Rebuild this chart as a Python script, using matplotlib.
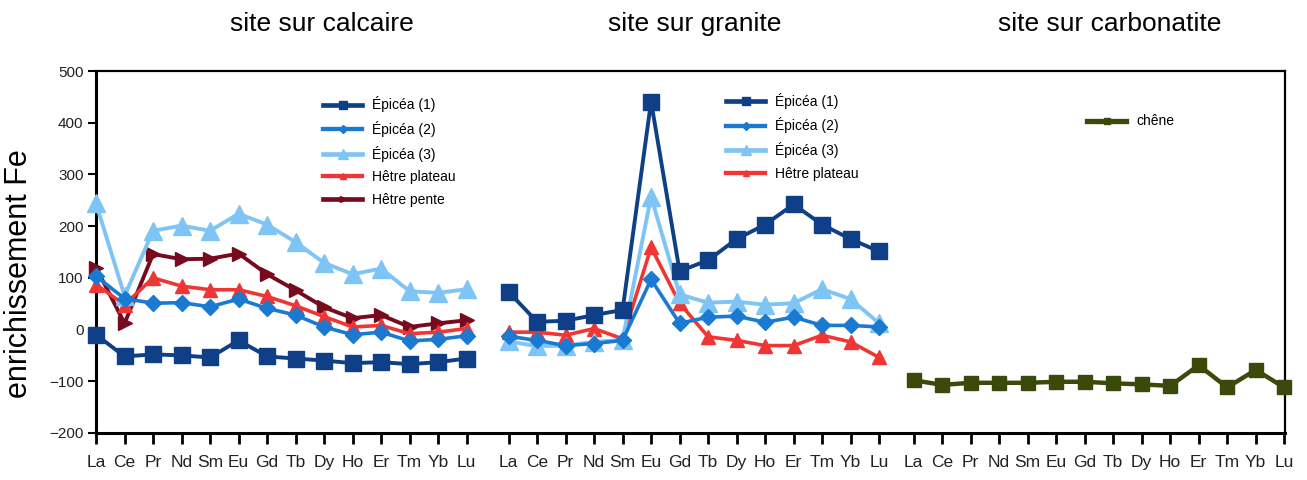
import matplotlib
matplotlib.use("Agg")
import matplotlib.pyplot as plt
from matplotlib.lines import Line2D

plt.rcParams['font.family'] = ['Liberation Sans', 'DejaVu Sans']

# element labels (same for each site)
elements = ['La', 'Ce', 'Pr', 'Nd', 'Sm', 'Eu', 'Gd', 'Tb', 'Dy', 'Ho', 'Er', 'Tm', 'Yb', 'Lu']
sites = ['site sur calcaire', 'site sur granite', 'site sur carbonatite']

# site sur calcaire
calc_epicea1 = [-10, -52, -48, -50, -54, -21, -52, -56, -60, -65, -63, -67, -63, -56]
calc_epicea2 = [103, 60, 51, 52, 44, 59, 41, 28, 5, -10, -5, -22, -19, -12]
calc_epicea3 = [244, 65, 191, 201, 191, 224, 203, 169, 129, 107, 118, 74, 71, 78]
calc_hetre_plateau = [87, 48, 100, 84, 77, 77, 64, 46, 25, 5, 8, -8, -5, 2]
calc_hetre_pente = [120, 12, 146, 136, 137, 147, 107, 76, 43, 22, 28, 5, 12, 18]

# site sur granite
gran_epicea1 = [73, 15, 17, 28, 38, 441, 113, 134, 175, 203, 242, 203, 175, 151]
gran_epicea2 = [-13, -21, -31, -27, -21, 97, 12, 24, 26, 14, 24, 8, 8, 5]
gran_epicea3 = [-23, -32, -31, -24, -20, 257, 68, 52, 54, 48, 51, 78, 59, 12]
gran_hetre_plateau = [-5, -5, -11, 2, -18, 159, 51, -14, -21, -31, -31, -11, -24, -54]

# site sur carbonatite
carb_chene = [-98, -107, -103, -103, -103, -101, -101, -104, -106, -109, -69, -112, -78, -112]

# layout: x offset of each site block
step = 1.0
offsets = [0.0, 14.47, 28.68]

styles = {
    'Épicéa (1)': dict(color='#0E3F87', marker='s', ms=11, lw=2.8),
    'Épicéa (2)': dict(color='#1A7AD2', marker='D', ms=8, lw=2.6),
    'Épicéa (3)': dict(color='#7EC4F5', marker='^', ms=13, lw=2.8),
    'Hêtre plateau': dict(color='#F03535', marker='^', ms=10, lw=2.6),
    'Hêtre pente': dict(color='#780A1E', marker='>', ms=10, lw=2.8),
    'chêne': dict(color='#3B4A0B', marker='s', ms=10, lw=3.2),
}

blocks = [
    [('Épicéa (1)', calc_epicea1), ('Épicéa (2)', calc_epicea2), ('Épicéa (3)', calc_epicea3),
     ('Hêtre plateau', calc_hetre_plateau), ('Hêtre pente', calc_hetre_pente)],
    [('Épicéa (1)', gran_epicea1), ('Épicéa (2)', gran_epicea2), ('Épicéa (3)', gran_epicea3),
     ('Hêtre plateau', gran_hetre_plateau)],
    [('chêne', carb_chene)],
]

fig = plt.figure(figsize=(13.07, 4.80), dpi=100)
ax = fig.add_axes([0.0735, 0.098, 0.9095, 0.754])

ticks = []
labels = []
for off, block in zip(offsets, blocks):
    xs = [off + i * step for i in range(len(elements))]
    ticks += xs
    labels += elements
    # draw in reverse so the first series ends on top
    for name, vals in reversed(block):
        st = styles[name]
        ax.plot(xs, vals, color=st['color'], marker=st['marker'], ms=st['ms'],
                lw=st['lw'], clip_on=False, zorder=3)

ax.set_xlim(0, 41.7)
ax.set_ylim(-200, 500)
ax.set_yticks(range(-200, 501, 100))
ax.set_xticks(ticks)
ax.set_xticklabels(labels, fontsize=12.5, color='#222222')
ax.tick_params(axis='x', direction='out', length=8, width=2, pad=8)
ax.tick_params(axis='y', direction='out', length=6, width=1.5, labelsize=11,
               pad=3, labelcolor='#222222')
for side in ['left', 'bottom']:
    ax.spines[side].set_linewidth(2.2)
for side in ['top', 'right']:
    ax.spines[side].set_linewidth(1.6)

ax.set_ylabel('enrichissement Fe', fontsize=22)
ax.yaxis.set_label_coords(-0.052, 0.44)

# site titles
title_x = [0.19, 0.504, 0.853]
for tx, title in zip(title_x, sites):
    ax.text(tx, 1.13, title, transform=ax.transAxes,
            ha='center', va='center', fontsize=19)

# legends, one per site block
legend_pos = [(0.191, 0.93), (0.53, 0.94), (0.834, 0.88)]
legs = []
for (name_block, pos) in zip(blocks, legend_pos):
    handles = []
    for name, _ in name_block:
        st = styles[name]
        handles.append(Line2D([], [], color=st['color'], marker=st['marker'],
                              ms=st['ms'] * 0.5, lw=st['lw'] * 1.2, label=name))
    leg = ax.legend(handles=handles, loc='upper left', bbox_to_anchor=pos,
                    frameon=False, fontsize=10, handlelength=2.8,
                    handletextpad=0.7, labelspacing=0.62, borderpad=0,
                    borderaxespad=0)
    legs.append(leg)
for leg in legs[:-1]:
    ax.add_artist(leg)

fig.savefig('out.png', dpi=100)
